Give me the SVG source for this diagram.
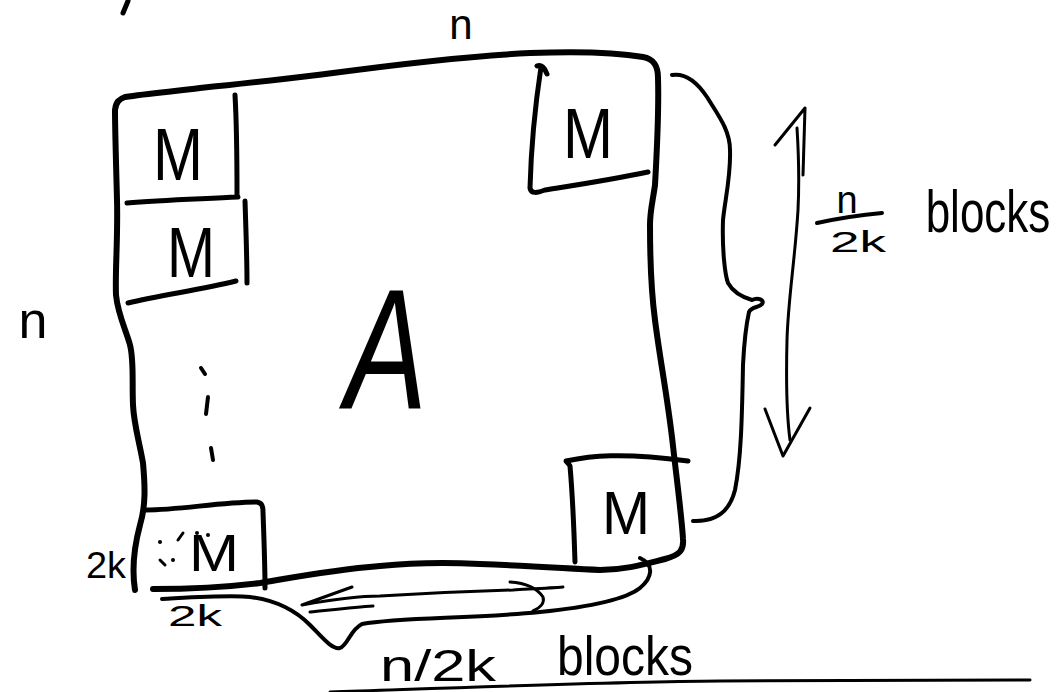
<svg xmlns="http://www.w3.org/2000/svg" width="1060" height="692" viewBox="0 0 1060 692">
<style>
.s{fill:none;stroke:#000;stroke-linecap:round;stroke-linejoin:round}
.w6{stroke-width:6}
.w5{stroke-width:5}
.w4{stroke-width:4}
.w3{stroke-width:3}
.t{font-family:"Liberation Sans",Arial,sans-serif;fill:#000;text-anchor:middle}
.dot{fill:#000}
</style>
<rect width="1060" height="692" fill="#fff"/>
<g id="fragment">
<path class="s w5" d="M128,1 L123,13"/>
</g>
<g id="matrix-A">
<path class="s w6" d="M135,590 C131,565 136,540 140,525 C146,505 145,485 143,463 C139,440 134,425 133,405 C132,380 134,360 130,345 C126,330 118,315 116,295 C115,270 118,240 117,200 C116,160 115,130 115,110 C116,102 119,99 125,97 C150,93 180,91 200,88 C260,82 300,77 333,73 C400,64 470,56 530,53 C580,51 620,53 643,57 C654,59 658,66 658,78 C659,110 657,150 655,185 C653,200 650,210 650,225 C650,260 651,290 655,320 C660,360 668,400 673,446 C678,490 682,520 683,539 C684,550 680,555 665,559 C645,564 625,570 600,570 C560,568 530,566 480,564 C440,562 410,563 380,566 C330,570 290,578 260,583 C220,588 185,589 153,589"/>
<text class="t" x="386" y="408" font-size="170" font-style="italic" textLength="82" lengthAdjust="spacingAndGlyphs">A</text>
<path class="s w4" d="M201,368 L205,374 M208,397 L206,414 M211,448 L213,460"/>
</g>
<g id="block-M1">
<path class="s w5" d="M235,95 C237,130 237,165 237,195 M127,203 C160,200 200,199 238,197"/>
<text class="t" x="178" y="180" font-size="74" textLength="50" lengthAdjust="spacingAndGlyphs">M</text>
</g>
<g id="block-M2">
<path class="s w5" d="M245,201 C246,230 247,260 247,283 M128,303 C160,295 200,290 236,281"/>
<text class="t" x="191" y="277" font-size="70" textLength="48" lengthAdjust="spacingAndGlyphs">M</text>
</g>
<g id="block-M3">
<path class="s w5" d="M537,66 C541,64 545,68 547,74 M541,67 C536,100 531,150 530,188 C531,194 537,193 545,190 C570,186 610,180 648,172"/>
<text class="t" x="588" y="158" font-size="70" textLength="50" lengthAdjust="spacingAndGlyphs">M</text>
</g>
<g id="block-M4">
<path class="s w5" d="M570,466 C568,462 566,462 566,461 C590,456 620,452 688,461 M570,466 C573,500 574,530 575,562"/>
<text class="t" x="626" y="534" font-size="62" textLength="48" lengthAdjust="spacingAndGlyphs">M</text>
</g>
<g id="block-M5">
<path class="s w5" d="M146,510 C180,510 220,502 257,502 C262,503 263,506 263,512 C264,540 265,565 265,588"/>
<text class="t" x="214" y="571" font-size="52" textLength="50" lengthAdjust="spacingAndGlyphs">M</text>
<circle class="dot" cx="160" cy="542" r="2"/>
<circle class="dot" cx="173" cy="560" r="2"/>
<circle class="dot" cx="197" cy="533" r="2"/>
<circle class="dot" cx="208" cy="535" r="2"/>
<path class="s w3" d="M160,560 L165,565 M183,533 L178,540"/>
</g>
<g id="connectors">
<path class="s w4" d="M672,75 C685,73 697,82 707,97 C718,115 730,130 730,150 C731,175 725,200 723,220 C722,250 725,275 728,283 C733,292 742,297 752,300 C758,297 765,300 762,304 C759,308 752,306 749,312 C745,330 744,345 743,365 C742,420 741,460 735,490 C730,510 718,522 693,521"/>
<path class="s w3" d="M797,128 C799,160 799,190 798,210 C795,260 788,300 787,340 C786,380 786,410 790,440"/>
<path class="s w3" d="M775,145 L805,108 L803,175"/>
<path class="s w3" d="M765,409 L783,456 L810,408"/>
<path class="s w4" d="M162,599 C200,597 230,595 250,597 C275,600 295,610 310,625 C322,637 332,650 340,648 C348,645 350,630 362,624 C400,617 470,619 540,612 C590,607 625,600 640,588 C652,578 655,565 640,558"/>
<path class="s w3" d="M352,587 L302,605 C330,600 360,596 380,596 C430,593 480,591 513,590 C530,589 550,588 563,587"/>
<path class="s w3" d="M310,612 C330,610 355,607 373,606"/>
<path class="s w3" d="M510,582 C525,583 537,588 543,597 C545,603 540,608 533,611"/>
<path class="s w3" d="M330,692 C450,688 600,682 720,681 L1030,680"/>
</g>
<g id="labels">
<text class="t" x="461" y="39" font-size="42">n</text>
<text class="t" x="33" y="338" font-size="52">n</text>
<text class="t" x="847" y="213" font-size="38">n</text>
<path class="s w4" d="M817,223 C840,218 860,215 882,213"/>
<text class="t" x="858" y="252" font-size="30" textLength="56" lengthAdjust="spacingAndGlyphs">2k</text>
<text class="t" font-size="44" transform="translate(988,232) scale(1,1.35)">blocks</text>
<text class="t" x="106" y="578" font-size="36" textLength="40" lengthAdjust="spacingAndGlyphs">2k</text>
<text class="t" x="195" y="626" font-size="30" textLength="54" lengthAdjust="spacingAndGlyphs">2k</text>
<text class="t" x="438" y="681" font-size="44" textLength="116" lengthAdjust="spacingAndGlyphs">n/2k</text>
<text class="t" x="625" y="675" font-size="56" textLength="136" lengthAdjust="spacingAndGlyphs">blocks</text>
</g>
</svg>
